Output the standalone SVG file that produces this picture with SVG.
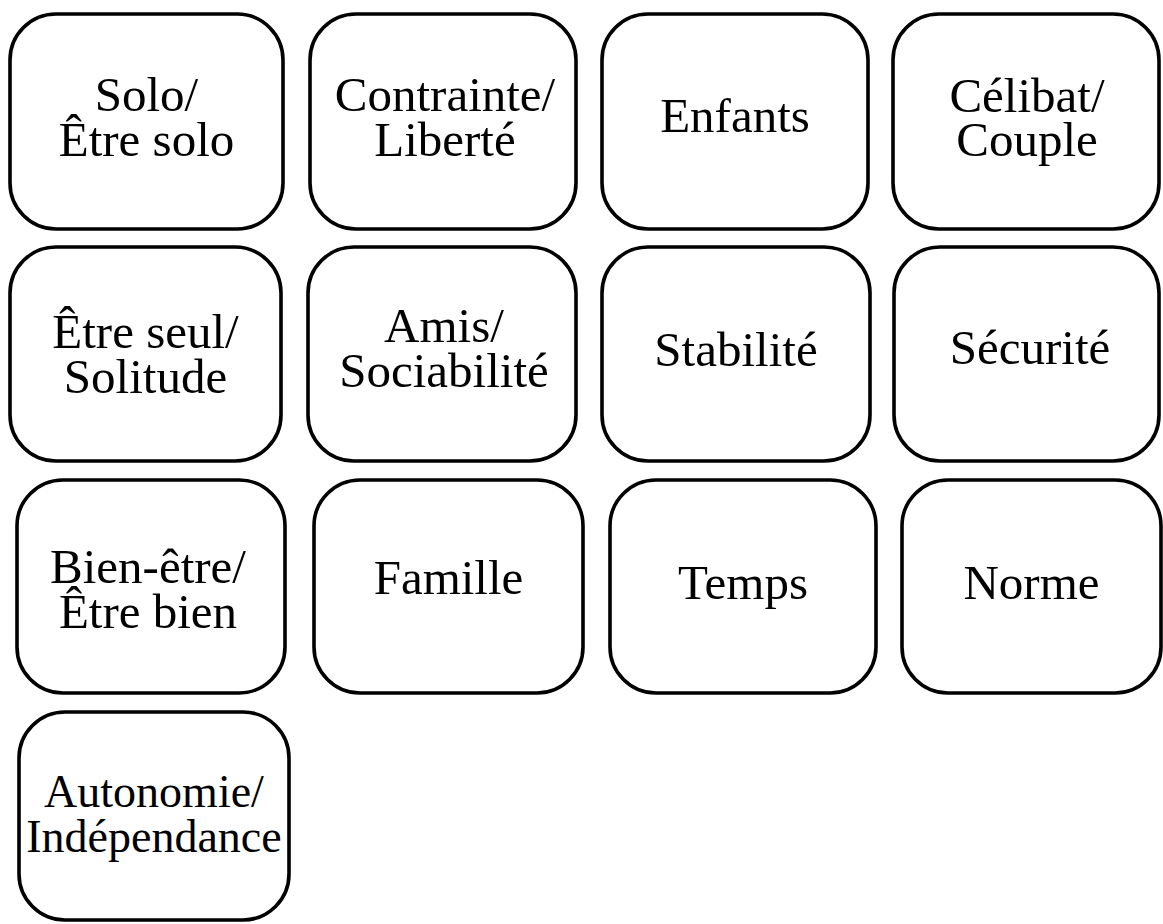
<svg xmlns="http://www.w3.org/2000/svg" width="1163" height="924" viewBox="0 0 1163 924">
<style>
.b{fill:#fff;stroke:#000;stroke-width:3.6}
.t{font-family:"Liberation Serif","Times New Roman",serif;font-size:49px;fill:#000;text-anchor:middle}
.s{font-size:46px}
</style>
<rect width="1163" height="924" fill="#fff"/>
<g id="connectors"></g>
<g id="n1"><rect class="b" x="10" y="14" width="273" height="215" rx="46"/><text class="t" x="146.5" y="111">Solo/<tspan x="146.5" dy="45">Être solo</tspan></text></g>
<g id="n2"><rect class="b" x="310" y="14" width="266" height="215" rx="46"/><text class="t" x="445" y="111">Contrainte/<tspan x="445" dy="45">Liberté</tspan></text></g>
<g id="n3"><rect class="b" x="602" y="14" width="266" height="215" rx="46"/><text class="t" x="735" y="132">Enfants</text></g>
<g id="n4"><rect class="b" x="893" y="14" width="266" height="215" rx="46"/><text class="t" x="1027" y="112">Célibat/<tspan x="1027" dy="44">Couple</tspan></text></g>
<g id="n5"><rect class="b" x="10" y="247" width="271" height="214" rx="46"/><text class="t" x="145.5" y="348">Être seul/<tspan x="145.5" dy="45">Solitude</tspan></text></g>
<g id="n6"><rect class="b" x="308" y="247" width="268" height="214" rx="46"/><text class="t" x="444" y="342">Amis/<tspan x="444" dy="45">Sociabilité</tspan></text></g>
<g id="n7"><rect class="b" x="602" y="247" width="268" height="214" rx="46"/><text class="t" x="736" y="366">Stabilité</text></g>
<g id="n8"><rect class="b" x="894" y="247" width="265" height="214" rx="46"/><text class="t" x="1030" y="364">Sécurité</text></g>
<g id="n9"><rect class="b" x="17" y="480" width="268" height="213" rx="46"/><text class="t" x="148" y="583">Bien-être/<tspan x="148" dy="45">Être bien</tspan></text></g>
<g id="n10"><rect class="b" x="314" y="480" width="269" height="213" rx="46"/><text class="t" x="448.5" y="594">Famille</text></g>
<g id="n11"><rect class="b" x="610" y="480" width="266" height="213" rx="46"/><text class="t" x="743" y="599">Temps</text></g>
<g id="n12"><rect class="b" x="902" y="480" width="259" height="213" rx="46"/><text class="t" x="1031.5" y="599">Norme</text></g>
<g id="n13"><rect class="b" x="19" y="712" width="270" height="208" rx="46"/><text class="t s" x="154" y="807">Autonomie/<tspan x="154" dy="45">Indépendance</tspan></text></g>
</svg>
